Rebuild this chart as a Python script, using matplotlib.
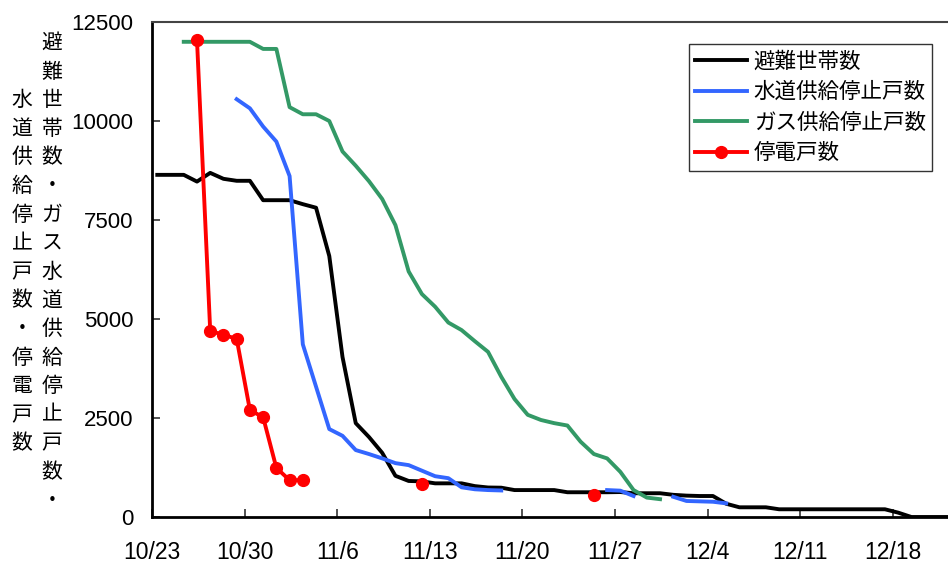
import numpy as np
import matplotlib
matplotlib.use("Agg")
import matplotlib.pyplot as plt
from matplotlib.transforms import ScaledTranslation

N = np.nan

# days since 10/23 (daily observations)
day_index = np.arange(61)

tick_days = [0, 7, 14, 21, 28, 35, 42, 49, 56]
tick_labels = ["10/23", "10/30", "11/6", "11/13", "11/20", "11/27", "12/4", "12/11", "12/18"]
y_ticks = [0, 2500, 5000, 7500, 10000, 12500]

series_names = ["避難世帯数", "水道供給停止戸数", "ガス供給停止戸数", "停電戸数"]

evacuated = [8640, 8640, 8640, 8470, 8690, 8540, 8490, 8490, 8000, 8000,
             8000, 7900, 7810, 6590, 4040, 2370, 2020, 1620, 1040, 910,
             900, 850, 850, 850, 780, 745, 740, 680, 680, 680,
             680, 625, 625, 625, 625, 630, 600, 600, 600, 560,
             540, 530, 530, 335, 245, 245, 245, 195, 195, 195,
             195, 195, 195, 195, 195, 195, 110, 0, 0, 0,
             0]

water = [N, N, N, N, N, N, 10550, 10320, 9860, 9480,
         8610, 4360, 3290, 2220, 2050, 1690, 1590, 1480, 1360, 1310,
         1170, 1030, 980, 750, 700, 680, 670, N, N, N,
         N, N, N, N, 680, 665, 530, N, N, 510,
         405, 395, 385, 345, N, N, N, N, N, N,
         N, N, N, N, N, N, N, N, N, N,
         N]

gas = [N, N, 12000, 12000, 12000, 12000, 12000, 12000, 11820, 11820,
       10350, 10170, 10170, 10000, 9230, 8870, 8480, 8030, 7370, 6200,
       5630, 5310, 4910, 4720, 4440, 4170, 3540, 2980, 2580, 2450,
       2370, 2310, 1900, 1590, 1480, 1140, 680, 490, 450, N,
       N, N, N, N, N, N, N, N, N, N,
       N, N, N, N, N, N, N, N, N, N,
       N]

power = [N, N, N, 12050, 4700, 4600, 4500, 2700, 2520, 1240,
         930, 930, N, N, N, N, N, N, N, N,
         830, N, N, N, N, N, N, N, N, N,
         N, N, N, 560, N, N, N, N, N, N,
         N, N, N, N, N, N, N, N, N, N,
         N, N, N, N, N, N, N, N, N, N,
         N]

ylabel_right = "避難世帯数・ガス水道供給停止戸数・"
ylabel_left = "水道供給停止戸数・停電戸数"

# ---------------------------------------------------------------
W, H = 948, 563
fig = plt.figure(figsize=(W / 100, H / 100), dpi=100)
fig.patch.set_facecolor("white")

px_per_day = 13.23
ax_left, ax_bottom, ax_w, ax_h = 152, 46, 808, 495
ax = fig.add_axes([ax_left / W, ax_bottom / H, ax_w / W, ax_h / H])

obs_offset = 0.4  # observation time within the day
x = day_index + obs_offset

cjk = ["Noto Sans CJK JP", "DejaVu Sans"]

ax.plot(x, evacuated, color="#000000", lw=2.8, label=series_names[0], zorder=3)
ax.plot(x, water, color="#3366FF", lw=2.8, label=series_names[1], zorder=4)
ax.plot(x, gas, color="#339966", lw=2.8, label=series_names[2], zorder=5)
ax.plot(x, power, color="#FF0000", lw=2.8, marker="o", markersize=8.5,
        markeredgecolor="#FF0000", markerfacecolor="#FF0000",
        label=series_names[3], zorder=6)

ax.set_xlim(0, ax_w / px_per_day)
ax.set_ylim(0, 12500)
ax.set_xticks(tick_days)
ax.set_xticklabels(tick_labels)
ax.set_yticks(y_ticks)
ax.set_yticklabels([str(v) for v in y_ticks])

for lab in ax.get_yticklabels():
    lab.set_fontfamily("Liberation Sans")
    lab.set_fontsize(16)
shift = ScaledTranslation(5 / 100, 0, fig.dpi_scale_trans)
for lab in ax.get_xticklabels():
    lab.set_fontfamily("Liberation Sans")
    lab.set_fontsize(16.5)
    lab.set_transform(lab.get_transform() + shift)

ax.tick_params(axis="both", direction="in", length=6, width=1.2, color="#333333")
ax.tick_params(axis="x", pad=17.5)
ax.tick_params(axis="y", pad=13.5)

for side in ["left", "bottom"]:
    ax.spines[side].set_color("#000000")
    ax.spines[side].set_linewidth(2.0)
ax.spines["top"].set_color("#444444")
ax.spines["top"].set_linewidth(1.5)
ax.spines["right"].set_visible(False)

leg = ax.legend(loc="upper left", bbox_to_anchor=(689 / W, 1 - 44 / H),
                bbox_transform=fig.transFigure, borderaxespad=0,
                prop={"family": cjk, "size": 15.5}, frameon=True, fancybox=False,
                edgecolor="#000000", handlelength=2.4, handletextpad=0.3,
                labelspacing=0.4, borderpad=0.3)
leg.get_frame().set_linewidth(1.0)

# vertical y-axis title (two columns, read right to left)
row0_y = 43
row_step = 28.6
for i, ch in enumerate(ylabel_right):
    fig.text(52 / W, 1 - (row0_y + i * row_step) / H, ch, ha="center", va="center",
             fontsize=15, family=cjk)
for i, ch in enumerate(ylabel_left):
    fig.text(22 / W, 1 - (row0_y + (i + 2) * row_step) / H, ch, ha="center", va="center",
             fontsize=15, family=cjk)

fig.savefig("out.png", dpi=100)
